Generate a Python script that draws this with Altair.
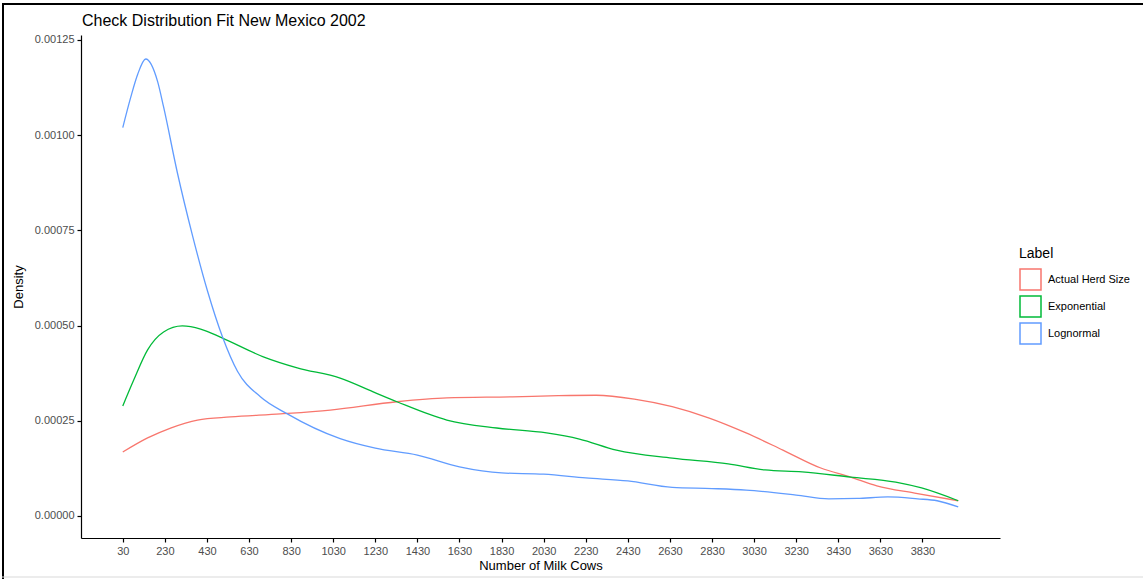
import altair as alt
import pandas as pd

# Density curves: herd size vs. fitted distributions (New Mexico, 2002)
actual_x = [30, 148, 257, 385, 542, 779, 1016, 1333, 1570, 1883, 2100, 2280, 2461,
            2641, 2817, 2992, 3167, 3347, 3489, 3613, 3793, 4000]
actual_y = [0.000168, 0.000205, 0.000231, 0.000252, 0.000260, 0.000268, 0.000278,
            0.000300, 0.000310, 0.000313, 0.000316, 0.000317, 0.000307, 0.000287,
            0.000257, 0.000218, 0.000173, 0.000126, 0.000102, 0.000079, 0.000060,
            0.000040]

expo_x = [30, 82, 148, 224, 313, 400, 504, 698, 859, 1063, 1220, 1333, 1570, 1807,
          2044, 2200, 2376, 2641, 2907, 3082, 3258, 3489, 3703, 3826, 4000]
expo_y = [0.000289, 0.000357, 0.000436, 0.000483, 0.000499, 0.000491, 0.000467,
          0.000418, 0.000389, 0.000362, 0.000326, 0.000300, 0.000252, 0.000231,
          0.000218, 0.000202, 0.000173, 0.000152, 0.000137, 0.000121, 0.000116,
          0.000102, 0.000089, 0.0000735, 0.000040]

logn_x = [30, 68, 101, 139, 196, 224, 290, 362, 433, 504, 575, 684, 812, 1063, 1230,
          1430, 1630, 1830, 2030, 2230, 2430, 2641, 2830, 2992, 3230, 3385, 3520,
          3665, 3807, 3900, 4000]
logn_y = [0.001020, 0.001100, 0.001160, 0.001200, 0.001140, 0.001074, 0.000900,
          0.000735, 0.000590, 0.000470, 0.000380, 0.000313, 0.000268, 0.000203,
          0.000178, 0.000160, 0.000129, 0.000113, 0.000110, 0.000100, 0.000092,
          0.0000750, 0.000072, 0.000068, 0.000055, 0.000045, 0.000046, 0.000050,
          0.000045, 0.000040, 0.000024]

labels = ["Actual Herd Size", "Exponential", "Lognormal"]
colors = ["#F8766D", "#00BA38", "#619CFF"]
x_ticks = list(range(30, 3831, 200))
y_ticks = [0.0, 0.00025, 0.0005, 0.00075, 0.001, 0.00125]
title_text = "Check Distribution Fit New Mexico 2002"

frames = []
for lab, xs, ys in zip(labels, [actual_x, expo_x, logn_x], [actual_y, expo_y, logn_y]):
    frames.append(pd.DataFrame({"cows": xs, "density": ys, "Label": lab}))
df = pd.concat(frames, ignore_index=True)

lines = alt.Chart(df).mark_line(strokeWidth=1.3, interpolate="monotone").encode(
    x=alt.X("cows:Q", title="Number of Milk Cows",
            scale=alt.Scale(domain=[-168.5, 4198.5], nice=False, zero=False),
            axis=alt.Axis(values=x_ticks, format="d", labelOverlap=False)),
    y=alt.Y("density:Q", title="Density",
            scale=alt.Scale(domain=[-0.0000578, 0.001263], nice=False, zero=False),
            axis=alt.Axis(values=y_ticks, format=".5f")),
    color=alt.Color("Label:N", scale=alt.Scale(domain=labels, range=colors),
                    legend=alt.Legend(title="Label", orient="none", legendX=938,
                                      legendY=212, symbolType="square",
                                      symbolSize=441, symbolStrokeWidth=1.5,
                                      symbolFillColor="white", rowPadding=0,
                                      labelFontSize=11, titleFontSize=14,
                                      titleFontWeight="normal", titleColor="black",
                                      labelColor="black", titlePadding=7,
                                      labelOffset=6)),
)

one = pd.DataFrame({"k": [0]})
# Chart heading, drawn above the plot area
heading = alt.Chart(one).mark_text(
    align="left", baseline="alphabetic", fontSize=16, font="Liberation Sans",
    color="black").encode(x=alt.value(1), y=alt.value(-9), text=alt.value(title_text))
# Picture frame around the figure
frame_left = alt.Chart(one).mark_rule(color="black", strokeWidth=2).encode(
    x=alt.value(-78), y=alt.value(-31), y2=alt.value(544))
frame_top = alt.Chart(one).mark_rule(color="black", strokeWidth=2).encode(
    x=alt.value(-79), x2=alt.value(1062), y=alt.value(-31))
frame_bottom = alt.Chart(one).mark_rule(color="#d9d9d9", strokeWidth=1).encode(
    x=alt.value(-79), x2=alt.value(1062), y=alt.value(542))

chart = alt.layer(lines, heading, frame_left, frame_top, frame_bottom).properties(
    width=919, height=503,
    background="white",
    autosize=alt.AutoSizeParams(type="none"),
    padding={"left": 81, "top": 35, "right": 143, "bottom": 41},
).configure_view(stroke=None).configure_axis(
    grid=False, domainColor="black", domainWidth=1.2, tickColor="black",
    tickSize=4, tickWidth=1.2, labelColor="#4D4D4D", labelFontSize=11,
    labelFont="Liberation Sans", titleFont="Liberation Sans", titleFontSize=13,
    titleFontWeight="normal", titleColor="black", labelPadding=3,
).configure_axisX(titlePadding=3).configure_axisY(titlePadding=9).configure_legend(
    labelFont="Liberation Sans", titleFont="Liberation Sans"
)

chart.save("out.html", embed_options={"renderer": "svg", "actions": False})
